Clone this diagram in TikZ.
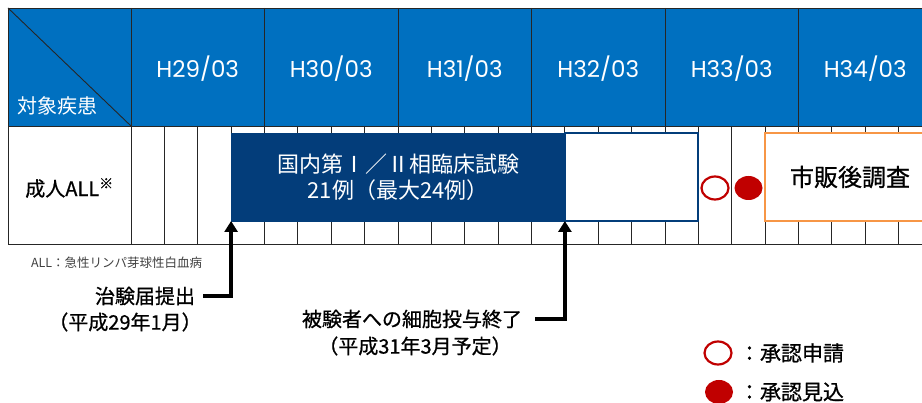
\documentclass[tikz,border=0pt]{standalone}
\usepackage{fontspec}
\setmainfont{Noto Sans CJK JP}
\newfontfamily\heavyfont{Noto Sans CJK JP}[FakeBold=0.8]
\newfontfamily\yearfont{Poppins}
\usepackage{tikz}
\usetikzlibrary{arrows.meta,shapes.geometric}
\definecolor{headblue}{RGB}{0,112,192}
\definecolor{navy}{RGB}{3,61,122}
\definecolor{apricot}{RGB}{247,150,70}
\definecolor{approvalred}{RGB}{192,0,0}

\begin{document}
\begin{tikzpicture}[x=1pt,y=-1pt,
  gridline/.style={black!85,line width=.9pt},
  phasebox/.style={minimum height=88,inner sep=0,outer sep=0},
  txt/.style={inner sep=0,outer sep=0,font=\heavyfont\fontsize{20}{26}\selectfont},
  year/.style={text=white,font=\yearfont\fontsize{23}{27}\selectfont},
  callout/.style={line width=4pt,-{Triangle[length=11pt,width=13pt]}},
  dot/.style={ellipse,inner sep=0,minimum width=27,minimum height=23}]
\useasboundingbox (0,0) rectangle (922,403);
% header
\fill[headblue] (8,8) rectangle (922,126);
\foreach \k in {1,...,23}
  \draw[gridline] ({131+33.375*\k},126) -- ({131+33.375*\k},244);
\foreach \j in {0,...,5}
  \draw[gridline] ({131+133.5*\j},8) -- ({131+133.5*\j},244);
\draw[gridline] (922,8) -| (8,244) -- (922,244);
\draw[gridline] (8,126) -- (922,126);
\draw[gridline] (8,8) -- (131,126);
\foreach \y [count=\j from 0] in {29,...,34}
  \node[year] (h\y) at ({197.75+133.5*\j},69) {H\y/03};
\node[txt,anchor=west,text=white,font=\fontsize{20}{26}\selectfont] (target) at (17,106) {対象疾患};
\node[txt] (adult) at (69.5,188) {成人ALL\textsuperscript{※}};
% phases
\node[phasebox,fill=navy,draw=navy,text=white,minimum width=333.8,align=center,
  font=\fontsize{22}{26}\selectfont] (trial) at (398,177)
  {国内第Ⅰ／Ⅱ相臨床試験\\21例（最大24例）};
\node[phasebox,draw=navy,line width=2pt,fill=white,minimum width=133.5] (pending) at (631.65,177) {};
\node[dot,draw=approvalred,line width=2.2pt] (apply) at (715,188) {};
\node[dot,fill=approvalred,minimum width=28,minimum height=24] (expect) at (748.5,188) {};
\node[phasebox,draw=apricot,line width=2.5pt,fill=white,minimum width=170,
  font=\heavyfont\fontsize{24}{28}\selectfont] (pms) at (850,177) {市販後調査};
\node[txt,anchor=west,text=black!75,font=\fontsize{12.5}{14}\selectfont] (note) at (31,263) {ALL：急性リンパ芽球性白血病};
% milestones
\node[txt,anchor=east] (filing) at (195,296) {治験届提出};
\node[txt] (filingdate) at (125,322) {（平成29年1月）};
\draw[callout] ([xshift=8pt]filing.east) -| (trial.south west);
\node[txt,anchor=east] (dosing) at (522,319) {被験者への細胞投与終了};
\node[txt] (dosingdate) at (415,346) {（平成31年3月予定）};
\draw[callout] ([xshift=13pt]dosing.east) -| (trial.south east);
% legend
\node[dot,draw=approvalred,line width=2.2pt] (legapply) at (718,353) {};
\node[txt,anchor=west,font=\heavyfont\fontsize{21}{25}\selectfont] (legapplytext) at (739,353) {：承認申請};
\node[dot,fill=approvalred,minimum width=28,minimum height=24] (legexpect) at (719,392) {};
\node[txt,anchor=west,font=\heavyfont\fontsize{21}{25}\selectfont] (legexpecttext) at (739,392) {：承認見込};
\end{tikzpicture}
\end{document}
